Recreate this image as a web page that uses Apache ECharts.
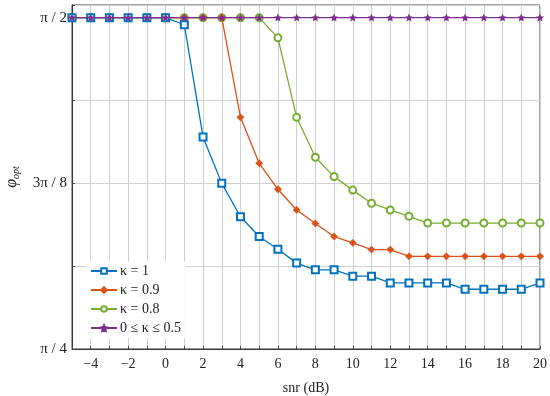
<!DOCTYPE html>
<html>
<head>
<meta charset="utf-8">
<script src="https://cdn.jsdelivr.net/npm/echarts@6/dist/echarts.min.js"></script>
<style>html,body{margin:0;padding:0;background:#fff}#c{width:550px;height:396px}</style>
</head>
<body>
<div id="c"></div>
<script>
const snr = [-5,-4,-3,-2,-1,0,1,2,3,4,5,6,7,8,9,10,11,12,13,14,15,16,17,18,19,20];
const H = Math.PI/2;
const kappa1 = [H,H,H,H,H,H,1.554,1.288,1.178,1.099,1.052,1.022,0.989,0.973,0.973,0.958,0.958,0.942,0.942,0.942,0.942,0.927,0.927,0.927,0.927,0.942];
const kappa09 = [H,H,H,H,H,H,H,H,H,1.3345,1.2255,1.164,1.115,1.083,1.052,1.037,1.021,1.021,1.005,1.005,1.005,1.005,1.005,1.005,1.005,1.005];
const kappa08 = [H,H,H,H,H,H,H,H,H,H,H,1.523,1.3345,1.240,1.194,1.162,1.131,1.115,1.100,1.084,1.084,1.084,1.084,1.084,1.084,1.084];
const kappa05 = snr.map(() => H);
const seriesNames = ['κ = 1','κ = 0.9','κ = 0.8','0 ≤ κ ≤ 0.5'];
const yTickLabels = {4:'π / 4', 6:'3π / 8', 8:'π / 2'};

const colors = ['#0072BD','#D95319','#77AC30','#7E2F8E'];
const starPath = 'path://M0,-10 L2.9,-4 9.5,-3.1 4.7,1.5 5.9,8.1 0,5 -5.9,8.1 -4.7,1.5 -9.5,-3.1 -2.9,-4 Z';
const font = '"Liberation Serif","DejaVu Serif",serif';
function pairs(arr){ return snr.map((x,i)=>[x,arr[i]]); }
const chart = echarts.init(document.getElementById('c'));
const mk = (name, data, color, symbol, size, z) => ({
  name, type:'line', data: pairs(data), symbol, symbolSize: size, z,
  lineStyle:{color, width:1.3}, itemStyle:{color, borderColor: color, borderWidth:1.3},
  showAllSymbol:true
});
chart.setOption({
  animation:false,
  color: colors,
  grid:{left:72, right:10, top:5, bottom:47, show:true, borderColor:'#444', borderWidth:1, containLabel:false, outerBoundsMode:'none'},
  xAxis:{type:'value', min:-5, max:20, interval:1,
    axisLine:{onZero:false, lineStyle:{color:'#333'}},
    axisTick:{inside:true, length:3, lineStyle:{color:'#444'}},
    axisLabel:{color:'#222', fontFamily:font, fontSize:14, margin:8,
      formatter:v=> (v%2===0 ? (v<0?'−'+(-v):String(v)) : '')},
    splitLine:{show:true, lineStyle:{color:'#cfcfcf', width:1}},
    name:'snr (dB)', nameLocation:'middle', nameGap:32,
    nameTextStyle:{color:'#222', fontFamily:font, fontSize:14}
  },
  yAxis:{type:'value', min:Math.PI/4, max:Math.PI/2+0.03, interval:Math.PI/16,
    axisLine:{show:true, onZero:false, lineStyle:{color:'#333'}},
    axisTick:{show:true, inside:true, length:3, lineStyle:{color:'#444'}},
    axisLabel:{color:'#222', fontFamily:font, fontSize:15, margin:5,
      formatter:v=>{ const k=Math.round(v/(Math.PI/16)); return Math.abs(v-k*Math.PI/16)<1e-6 ? (yTickLabels[k]||'') : ''; }},
    splitLine:{show:true, lineStyle:{color:'#cfcfcf', width:1}},
    name:'{a|φ}{b|opt}', nameLocation:'middle', nameGap:51, nameRotate:90,
    nameTextStyle:{rich:{a:{fontFamily:font, fontStyle:'italic', fontSize:16, color:'#222'},
      b:{fontFamily:font, fontStyle:'italic', fontSize:10, color:'#222', padding:[8,0,0,0]}}}
  },
  legend:{orient:'vertical', left:86, top:261, itemWidth:26, itemHeight:7, itemGap:5,
    backgroundColor:'#fff', padding:[3,4,3,4],
    textStyle:{fontFamily:font, fontSize:14, color:'#222', padding:[0,0,0,-2]},
    data: seriesNames},
  series:[
    mk(seriesNames[0], kappa1, colors[0], 'emptyRect', 7, 4),
    mk(seriesNames[1], kappa09, colors[1], 'diamond', 6, 3),
    mk(seriesNames[2], kappa08, colors[2], 'emptyCircle', 7, 2),
    mk(seriesNames[3], kappa05, colors[3], starPath, 5, 5)
  ]
});
</script>
</body>
</html>
